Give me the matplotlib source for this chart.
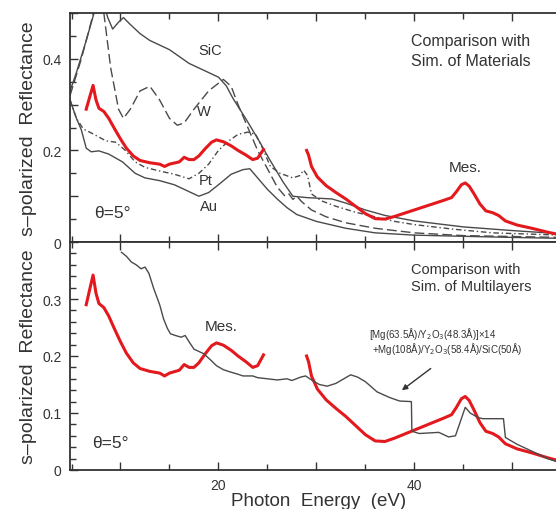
import matplotlib
matplotlib.use('Agg')
from matplotlib import pyplot as plt
from matplotlib.ticker import MultipleLocator, FuncFormatter

plt.rcParams['font.family'] = ['Liberation Sans', 'DejaVu Sans']

# measured reflectance (two scans, gap between 24.6 and 29 eV)
mes_e1 = [6.5, 6.9, 7.2, 7.5, 7.8, 8.3, 8.8, 9.4, 10.0, 10.6, 11.3, 12.0, 13.0, 14.0,
          14.5, 15.0, 16.0, 16.5, 17.0, 17.5, 18.0, 18.7, 19.3, 19.8, 20.5, 21.3,
          22.0, 22.8, 23.5, 24.0, 24.6]
mes_r1 = [0.29, 0.32, 0.342, 0.31, 0.292, 0.285, 0.27, 0.247, 0.225, 0.205, 0.188,
          0.178, 0.173, 0.17, 0.165, 0.17, 0.175, 0.185, 0.18, 0.18, 0.188, 0.205,
          0.218, 0.223, 0.219, 0.21, 0.2, 0.19, 0.18, 0.183, 0.202]
mes_e2 = [29.0, 29.2, 29.5, 30.1, 31.0, 32.0, 33.0, 34.0, 35.0, 36.0, 37.0, 38.0,
          39.0, 40.0, 41.0, 42.0, 43.0, 43.8, 44.3, 44.8, 45.2, 45.6, 46.1, 46.7,
          47.3, 48.0, 48.6, 49.3, 50.5, 52.0, 53.5, 55.0]
mes_r2 = [0.2, 0.19, 0.165, 0.142, 0.123, 0.108, 0.094, 0.078, 0.062, 0.051, 0.05,
          0.056, 0.063, 0.07, 0.077, 0.084, 0.091, 0.097, 0.11, 0.125, 0.129, 0.122,
          0.105, 0.083, 0.068, 0.064, 0.058, 0.046, 0.037, 0.03, 0.022, 0.015]

# simulated single materials
sic_e = [4.85, 5.5, 6.5, 7.3, 7.8, 8.3, 8.7, 9.2, 9.8, 10.3, 11.0, 12.0, 13.0, 14.0,
         15.0, 16.0, 17.0, 18.0, 19.0, 20.0, 20.8, 21.5, 22.8, 24.2, 25.2, 26.6,
         27.6, 29.0, 31.6, 33.0, 35.0, 37.0, 40.0, 45.0, 50.0, 55.0]
sic_r = [0.33, 0.37, 0.44, 0.5, 0.53, 0.52, 0.49, 0.465, 0.48, 0.49, 0.475, 0.455,
         0.44, 0.43, 0.42, 0.405, 0.39, 0.38, 0.37, 0.36, 0.341, 0.313, 0.269, 0.219,
         0.181, 0.131, 0.1, 0.097, 0.094, 0.085, 0.07, 0.058, 0.046, 0.033, 0.025, 0.018]

w_e = [4.85, 6.0, 7.0, 7.8, 8.3, 9.0, 9.8, 10.3, 11.0, 12.0, 13.0, 14.0, 15.0, 15.8,
       16.5, 17.5, 19.0, 20.5, 21.3, 22.0, 23.0, 24.0, 25.0, 26.0, 26.8, 27.2, 27.6,
       28.0, 28.5, 29.5, 31.0, 33.0, 36.0, 40.0, 45.0, 55.0]
w_r = [0.32, 0.4, 0.48, 0.55, 0.5, 0.38, 0.29, 0.27, 0.29, 0.33, 0.34, 0.31, 0.27,
       0.255, 0.26, 0.29, 0.33, 0.355, 0.34, 0.3, 0.25, 0.2, 0.16, 0.12, 0.1, 0.105,
       0.093, 0.1, 0.088, 0.07, 0.055, 0.042, 0.03, 0.02, 0.014, 0.01]

pt_e = [4.85, 5.5, 6.2, 7.2, 8.5, 9.5, 10.5, 11.5, 12.5, 14.0, 15.5, 17.0, 18.0, 19.0,
        20.0, 21.0, 22.0, 23.0, 23.8, 24.5, 25.3, 26.3, 27.6, 28.3, 28.7, 29.1, 29.5,
        30.5, 32.0, 34.0, 36.0, 38.0, 40.0, 44.0, 48.0, 55.0]
pt_r = [0.31, 0.27, 0.247, 0.236, 0.221, 0.218, 0.2, 0.175, 0.163, 0.155, 0.148, 0.138,
        0.15, 0.17, 0.2, 0.22, 0.235, 0.24, 0.235, 0.205, 0.165, 0.15, 0.14, 0.145,
        0.157, 0.145, 0.105, 0.09, 0.078, 0.065, 0.055, 0.045, 0.038, 0.028, 0.02, 0.015]

au_e = [4.85, 5.5, 6.0, 6.5, 7.0, 7.8, 8.8, 10.2, 11.5, 12.5, 14.0, 15.5, 17.0, 18.0,
        19.0, 20.0, 21.3, 22.5, 23.2, 24.0, 25.0, 26.0, 27.0, 28.0, 30.0, 33.0, 36.0,
        40.0, 50.0, 55.0]
au_r = [0.31, 0.27, 0.245, 0.205, 0.197, 0.199, 0.192, 0.175, 0.15, 0.14, 0.134, 0.125,
        0.11, 0.1, 0.108, 0.125, 0.148, 0.158, 0.16, 0.14, 0.115, 0.094, 0.075, 0.06,
        0.045, 0.03, 0.02, 0.015, 0.01, 0.008]

# simulated multilayer
ml_e = [10.1, 10.6, 11.1, 11.6, 12.1, 12.5, 12.9, 13.4, 14.0, 14.4, 14.8, 15.1, 15.6,
        16.2, 16.6, 17.0, 17.5, 18.5, 19.2, 19.8, 20.5, 21.2, 22.0, 22.5, 23.5, 24.0,
        25.0, 26.0, 27.0, 27.5, 28.4, 28.9, 29.5, 30.3, 31.1, 32.0, 32.8, 33.5, 34.2,
        35.0, 36.2, 37.5, 38.5, 39.7, 39.75, 40.5, 42.5, 43.5, 44.2, 44.7, 45.2, 45.7,
        46.5, 47.0, 49.1, 49.3, 50.5, 52.0, 53.6, 55.0]
ml_r = [0.382, 0.375, 0.365, 0.36, 0.353, 0.356, 0.345, 0.318, 0.29, 0.265, 0.248,
        0.239, 0.236, 0.233, 0.236, 0.225, 0.212, 0.204, 0.193, 0.183, 0.176, 0.172,
        0.168, 0.165, 0.165, 0.162, 0.16, 0.158, 0.16, 0.157, 0.163, 0.165, 0.158,
        0.15, 0.147, 0.152, 0.16, 0.167, 0.163, 0.155, 0.137, 0.127, 0.121, 0.12,
        0.068, 0.064, 0.066, 0.058, 0.06, 0.085, 0.11, 0.1, 0.092, 0.09, 0.09, 0.057,
        0.045, 0.033, 0.02, 0.012]

red = '#e3191e'
gray = '#4a4a4a'
ink = '#333333'

fig = plt.figure(figsize=(5.56, 5.10), dpi=100)
ax1 = fig.add_axes([0.126, 0.5235, 0.894, 0.449])
ax2 = fig.add_axes([0.126, 0.0765, 0.894, 0.447], sharex=ax1)

# upper panel: materials
ax1.plot(sic_e, sic_r, color=gray, lw=1.0)
ax1.plot(w_e, w_r, color=gray, lw=1.0, ls=(0, (7, 3)))
ax1.plot(pt_e, pt_r, color=gray, lw=1.0, ls=(0, (4, 2, 1, 2)))
ax1.plot(au_e, au_r, color=gray, lw=1.0)
for e, r in [(mes_e1, mes_r1), (mes_e2, mes_r2)]:
    ax1.plot(e, r, color=red, lw=2.2)
    ax2.plot(e, r, color=red, lw=2.2)

ax1.text(19.2, 0.42, 'SiC', fontsize=10.5, color=ink, ha='center', va='center')
ax1.text(18.5, 0.286, 'W', fontsize=10.5, color=ink, ha='center', va='center')
ax1.text(18.7, 0.135, 'Pt', fontsize=10.5, color=ink, ha='center', va='center')
ax1.text(19.0, 0.079, 'Au', fontsize=10.5, color=ink, ha='center', va='center')
ax1.text(45.2, 0.164, 'Mes.', fontsize=11, color=ink, ha='center', va='center')
ax1.text(9.2, 0.065, 'θ=5°', fontsize=12.5, color=ink, ha='center', va='center')
ax1.text(39.7, 0.44, 'Comparison with', fontsize=11.5, color=ink, va='center')
ax1.text(39.7, 0.396, 'Sim. of Materials', fontsize=11.5, color=ink, va='center')

# lower panel: multilayer
ax2.plot(ml_e, ml_r, color=gray, lw=1.0)
ax2.text(20.3, 0.253, 'Mes.', fontsize=11, color=ink, ha='center', va='center')
ax2.text(9.0, 0.049, 'θ=5°', fontsize=12.5, color=ink, ha='center', va='center')
ax2.text(39.7, 0.352, 'Comparison with', fontsize=10.5, color=ink, va='center')
ax2.text(39.7, 0.322, 'Sim. of Multilayers', fontsize=10.5, color=ink, va='center')
ax2.text(41.9, 0.241, '[Mg(63.5Å)/Y$_2$O$_3$(48.3Å)]×14', fontsize=7,
         color=ink, ha='center', va='center')
ax2.text(43.4, 0.214, '+Mg(108Å)/Y$_2$O$_3$(58.4Å)/SiC(50Å)', fontsize=7,
         color=ink, ha='center', va='center')
ax2.annotate('', xy=(38.5, 0.137), xytext=(41.9, 0.181),
             arrowprops=dict(arrowstyle='-|>', color=ink, lw=1.0,
                             mutation_scale=8))

ax1.set_xlim(4.85, 55.6)
ax1.set_ylim(0, 0.5)
ax2.set_ylim(0, 0.4)

ax1.yaxis.set_major_locator(MultipleLocator(0.1))
ax1.yaxis.set_minor_locator(MultipleLocator(0.05))
ax1.yaxis.set_major_formatter(FuncFormatter(
    lambda v, p: ('0' if abs(v) < 1e-9 else f'{v:.1f}') if round(v * 10) % 2 == 0 else ''))
ax2.yaxis.set_major_locator(MultipleLocator(0.1))
ax2.yaxis.set_minor_locator(MultipleLocator(0.02))
ax2.yaxis.set_major_formatter(FuncFormatter(
    lambda v, p: '0' if abs(v) < 1e-9 else ('' if v > 0.35 else f'{v:.1f}')))
ax2.xaxis.set_major_locator(MultipleLocator(10))
ax2.xaxis.set_minor_locator(MultipleLocator(5))
ax2.xaxis.set_major_formatter(FuncFormatter(
    lambda v, p: f'{v:.0f}' if int(round(v)) % 20 == 0 and v > 0 else ''))
ax1.tick_params(labelbottom=False)

for ax in (ax1, ax2):
    ax.tick_params(which='both', direction='in', top=True, right=True,
                   colors=ink, labelsize=10, width=1.0, pad=6)
    ax.tick_params(which='major', length=6)
    ax.tick_params(which='minor', length=4)
    for s in ax.spines.values():
        s.set_linewidth(1.3)
        s.set_color(ink)
    ax.set_ylabel('s\u2013polarized  Reflectance', fontsize=14, color=ink,
                  labelpad=4)

ax2.set_xlabel('Photon  Energy  (eV)', fontsize=13.5, color=ink, labelpad=0)

plt.savefig('out.png', dpi=100)
